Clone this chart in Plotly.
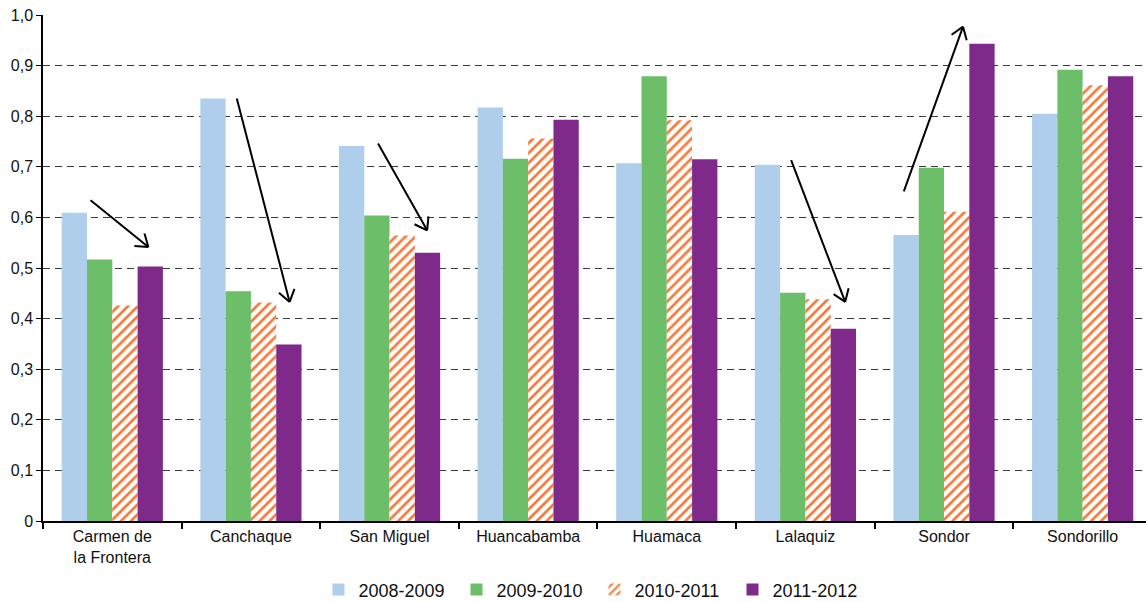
import math
import plotly.graph_objects as go

categories = ["Carmen de<br>la Frontera", "Canchaque", "San Miguel", "Huancabamba",
              "Huamaca", "Lalaquiz", "Sondor", "Sondorillo"]
series_names = ["2008-2009", "2009-2010", "2010-2011", "2011-2012"]
s2008_2009 = [0.609, 0.835, 0.741, 0.817, 0.707, 0.704, 0.565, 0.805]
s2009_2010 = [0.517, 0.454, 0.604, 0.716, 0.879, 0.451, 0.698, 0.892]
s2010_2011 = [0.426, 0.432, 0.564, 0.756, 0.792, 0.438, 0.611, 0.861]
s2011_2012 = [0.503, 0.349, 0.530, 0.793, 0.715, 0.380, 0.943, 0.879]

y_tickvals = [0, 0.1, 0.2, 0.3, 0.4, 0.5, 0.6, 0.7, 0.8, 0.9, 1.0]
y_ticktext = ["0", "0,1", "0,2", "0,3", "0,4", "0,5", "0,6", "0,7", "0,8", "0,9", "1,0"]

# trend arrows (category-index, value)
arrow_starts = [(-0.157, 0.634), (0.898, 0.835), (1.917, 0.746), (4.897, 0.713), (5.710, 0.6515)]
arrow_ends = [(0.260, 0.5415), (1.279, 0.433), (2.271, 0.5745), (5.287, 0.433), (6.137, 0.977)]

W, H = 1146, 602
ML, MR, MT, MB = 43, 0, 15, 81
XR = [-0.5, 7.457]
YR = [0, 1.0]

COL_BLUE = "#AECEEB"
COL_GREEN = "#6CBF68"
COL_ORANGE = "#F47A3A"
COL_PURPLE = "#7F2A8B"
FONT = "Liberation Sans, Arial, sans-serif"

fig = go.Figure()
fig.add_trace(go.Bar(x=categories, y=s2008_2009, name=series_names[0],
                     marker=dict(color=COL_BLUE, line=dict(width=0))))
fig.add_trace(go.Bar(x=categories, y=s2009_2010, name=series_names[1],
                     marker=dict(color=COL_GREEN, line=dict(width=0))))
fig.add_trace(go.Bar(x=categories, y=s2010_2011, name=series_names[2],
                     marker=dict(color="white", line=dict(width=0),
                                 pattern=dict(shape="/", fgcolor=COL_ORANGE, bgcolor="white",
                                              fgopacity=1, size=7, solidity=0.38,
                                              fillmode="overlay"))))
fig.add_trace(go.Bar(x=categories, y=s2011_2012, name=series_names[3],
                     marker=dict(color=COL_PURPLE, line=dict(width=0))))

# arrows as line shapes with open V heads
pw = W - ML - MR
ph = H - MT - MB
kx = pw / (XR[1] - XR[0])
ky = ph / (YR[1] - YR[0])
head_len = 14
head_ang = math.radians(35)
shapes = []
for (x0, y0), (x1, y1) in zip(arrow_starts, arrow_ends):
    shapes.append(dict(type="line", xref="x", yref="y", x0=x0, y0=y0, x1=x1, y1=y1,
                       line=dict(color="black", width=2)))
    dxp = (x1 - x0) * kx
    dyp = (y1 - y0) * ky
    ang = math.atan2(dyp, dxp)
    for s in (-1, 1):
        a = ang + math.pi + s * head_ang
        hx = x1 + head_len * math.cos(a) / kx
        hy = y1 + head_len * math.sin(a) / ky
        shapes.append(dict(type="line", xref="x", yref="y", x0=x1, y0=y1, x1=hx, y1=hy,
                           line=dict(color="black", width=2)))

fig.update_layout(
    template="none",
    width=W, height=H, autosize=False,
    margin=dict(l=ML, r=MR, t=MT, b=MB, autoexpand=False),
    paper_bgcolor="white", plot_bgcolor="white",
    barmode="group", bargap=0.27, bargroupgap=0,
    font=dict(family=FONT, size=16, color="#111"),
    shapes=shapes,
    legend=dict(orientation="h", x=0.5, xanchor="center", y=-0.136, yanchor="middle",
                font=dict(size=18, color="#111"), traceorder="normal",
                bgcolor="rgba(0,0,0,0)",
                entrywidth=93, entrywidthmode="pixels"),
    xaxis=dict(type="category", range=XR, showline=True, linecolor="black", linewidth=1.5,
               ticks="outside", ticklen=6, tickcolor="black", tickwidth=1.5,
               tickson="boundaries", showgrid=False, tickfont=dict(size=16),
               automargin=False),
    yaxis=dict(range=YR, tickvals=y_tickvals, ticktext=y_ticktext, showline=True,
               linecolor="black", linewidth=1.5, ticks="outside", ticklen=5,
               tickcolor="black", tickwidth=1.2, showgrid=True, gridcolor="#3a3a3a",
               griddash="7px,5px", gridwidth=1, zeroline=False, tickfont=dict(size=16),
               automargin=False),
)

fig.write_html("out.html",
               config={"displayModeBar": False},
               post_script="document.body.style.margin='0px';"
                           "document.body.style.overflow='hidden';")
